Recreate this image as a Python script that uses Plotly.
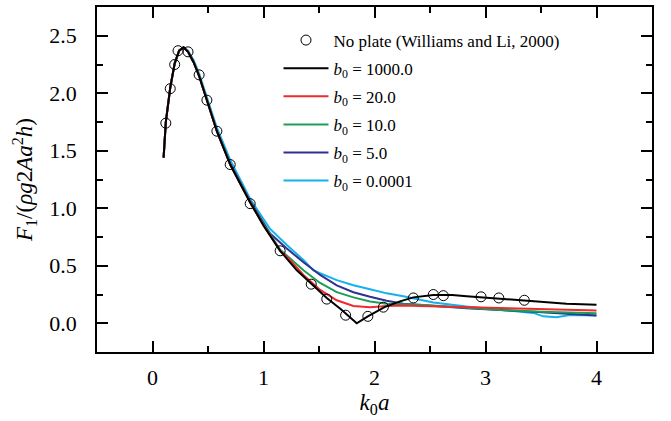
import plotly.graph_objects as go

# Williams and Li (2000), no plate
wl_x = [0.12, 0.16, 0.20, 0.23, 0.32, 0.42, 0.49, 0.58, 0.70, 0.88, 1.15, 1.43, 1.57, 1.74, 1.94, 2.08, 2.35, 2.53, 2.62, 2.96, 3.12, 3.35]
wl_y = [1.74, 2.04, 2.25, 2.37, 2.36, 2.16, 1.94, 1.67, 1.38, 1.04, 0.63, 0.34, 0.21, 0.07, 0.06, 0.14, 0.22, 0.25, 0.24, 0.23, 0.22, 0.20]

# b0 = 1000.0
b1000_x = [0.10, 0.12, 0.16, 0.20, 0.24, 0.28, 0.32, 0.37, 0.42, 0.49, 0.58, 0.70, 0.80, 0.88, 1.00, 1.15, 1.30, 1.44, 1.57, 1.70, 1.75, 1.84, 1.94, 2.09, 2.23, 2.35, 2.53, 2.70, 2.83, 3.13, 3.43, 3.73, 4.00]
b1000_y = [1.44, 1.75, 2.05, 2.26, 2.37, 2.40, 2.36, 2.27, 2.15, 1.94, 1.67, 1.38, 1.19, 1.05, 0.85, 0.63, 0.46, 0.34, 0.22, 0.12, 0.08, 0.00, 0.06, 0.14, 0.19, 0.225, 0.245, 0.245, 0.235, 0.215, 0.19, 0.17, 0.16]

# b0 = 20.0
b20_x = [0.10, 0.12, 0.16, 0.20, 0.24, 0.28, 0.32, 0.37, 0.42, 0.49, 0.58, 0.70, 0.80, 0.88, 1.00, 1.15, 1.21, 1.36, 1.51, 1.66, 1.81, 1.96, 2.11, 2.26, 2.41, 2.83, 3.13, 3.50, 4.00]
b20_y = [1.44, 1.75, 2.05, 2.26, 2.37, 2.40, 2.36, 2.27, 2.15, 1.94, 1.67, 1.38, 1.19, 1.05, 0.85, 0.63, 0.58, 0.42, 0.29, 0.20, 0.15, 0.14, 0.15, 0.155, 0.15, 0.14, 0.13, 0.12, 0.11]

# b0 = 10.0
b10_x = [0.10, 0.12, 0.16, 0.20, 0.24, 0.28, 0.32, 0.37, 0.42, 0.49, 0.58, 0.70, 0.80, 0.88, 1.00, 1.15, 1.21, 1.36, 1.51, 1.66, 1.81, 1.96, 2.11, 2.26, 2.41, 2.83, 3.13, 3.50, 4.00]
b10_y = [1.44, 1.75, 2.05, 2.26, 2.37, 2.40, 2.36, 2.27, 2.15, 1.94, 1.67, 1.38, 1.19, 1.05, 0.86, 0.64, 0.59, 0.46, 0.35, 0.27, 0.225, 0.19, 0.17, 0.165, 0.16, 0.135, 0.115, 0.10, 0.087]

# b0 = 5.0
b5_x = [0.10, 0.12, 0.16, 0.20, 0.24, 0.28, 0.32, 0.37, 0.42, 0.49, 0.58, 0.70, 0.80, 0.88, 1.06, 1.21, 1.36, 1.51, 1.66, 1.81, 1.96, 2.11, 2.26, 2.41, 2.83, 3.43, 4.00]
b5_y = [1.44, 1.75, 2.05, 2.26, 2.37, 2.40, 2.36, 2.27, 2.15, 1.94, 1.67, 1.39, 1.20, 1.06, 0.78, 0.65, 0.53, 0.42, 0.33, 0.27, 0.23, 0.196, 0.17, 0.16, 0.13, 0.10, 0.067]

# b0 = 0.0001
b00001_x = [0.10, 0.12, 0.16, 0.20, 0.24, 0.28, 0.32, 0.37, 0.42, 0.49, 0.58, 0.70, 0.88, 1.06, 1.21, 1.36, 1.45, 1.66, 1.81, 1.96, 2.11, 2.26, 2.41, 2.53, 2.83, 3.13, 3.43, 3.52, 3.64, 3.76, 4.00]
b00001_y = [1.44, 1.75, 2.05, 2.26, 2.37, 2.40, 2.37, 2.29, 2.17, 1.96, 1.70, 1.42, 1.08, 0.82, 0.68, 0.55, 0.46, 0.375, 0.33, 0.295, 0.26, 0.235, 0.205, 0.18, 0.145, 0.115, 0.09, 0.06, 0.053, 0.072, 0.067]

x_tickvals = [0, 1, 2, 3, 4]
y_tickvals = [0.0, 0.5, 1.0, 1.5, 2.0, 2.5]
y_ticktext = ["0.0", "0.5", "1.0", "1.5", "2.0", "2.5"]

FONT = "Liberation Serif"

fig = go.Figure()

curves = [
    (b00001_x, b00001_y, "<i>b</i><sub>0</sub> = 0.0001", "#14b1ec", 6),
    (b5_x, b5_y, "<i>b</i><sub>0</sub> = 5.0", "#2e3192", 5),
    (b10_x, b10_y, "<i>b</i><sub>0</sub> = 10.0", "#1a9f55", 4),
    (b20_x, b20_y, "<i>b</i><sub>0</sub> = 20.0", "#ee2a2f", 3),
    (b1000_x, b1000_y, "<i>b</i><sub>0</sub> = 1000.0", "#000000", 2),
]
for xs, ys, name, col, rank in curves:
    fig.add_trace(go.Scatter(x=xs, y=ys, mode="lines", name=name,
                             line=dict(color=col, width=2), legendrank=rank,
                             legendgroup=f"g{rank}"))

fig.add_trace(go.Scatter(x=wl_x, y=wl_y, mode="markers",
                         name="No plate (Williams and Li, 2000)",
                         marker=dict(symbol="circle-open", size=10, color="black",
                                     line=dict(width=1, color="black")),
                         legendrank=1, legendgroup="g1"))

axis_common = dict(
    showline=True, linecolor="black", linewidth=1.5, mirror="ticks",
    ticks="inside", ticklen=11, tickwidth=1.5, tickcolor="black",
    showgrid=False, zeroline=False,
    tickfont=dict(family=FONT, size=22, color="black"),
)

fig.update_xaxes(range=[-0.5, 4.5], tickvals=x_tickvals,
                 minor=dict(ticks="inside", ticklen=6, dtick=0.5, tick0=0, tickwidth=1.5, tickcolor="black", showgrid=False),
                 title=dict(text="<i>k</i><sub>0</sub><i>a</i>", font=dict(family=FONT, size=23, color="black"), standoff=4),
                 ticklabelstandoff=5,
                 **axis_common)
fig.update_yaxes(range=[-0.25, 2.75], tickvals=y_tickvals, ticktext=y_ticktext,
                 minor=dict(ticks="inside", ticklen=6, dtick=0.25, tick0=0, tickwidth=1.5, tickcolor="black", showgrid=False),
                 title=dict(text="<i>F</i><sub>1</sub>/(<i>ρg</i>2<i>Aa</i><sup>2</sup><i>h</i>)", font=dict(family=FONT, size=23, color="black"), standoff=10),
                 ticklabelstandoff=14,
                 **axis_common)

fig.update_layout(
    width=671, height=421,
    margin=dict(l=97, r=19, t=5, b=69),
    paper_bgcolor="white", plot_bgcolor="white",
    font=dict(family=FONT, color="black"),
    legend=dict(x=0.327, y=0.955, xanchor="left", yanchor="top",
                bgcolor="rgba(0,0,0,0)", borderwidth=0,
                font=dict(family=FONT, size=17, color="black"),
                itemwidth=45, tracegroupgap=3),
    showlegend=True,
)

fig.write_html("out.html")
